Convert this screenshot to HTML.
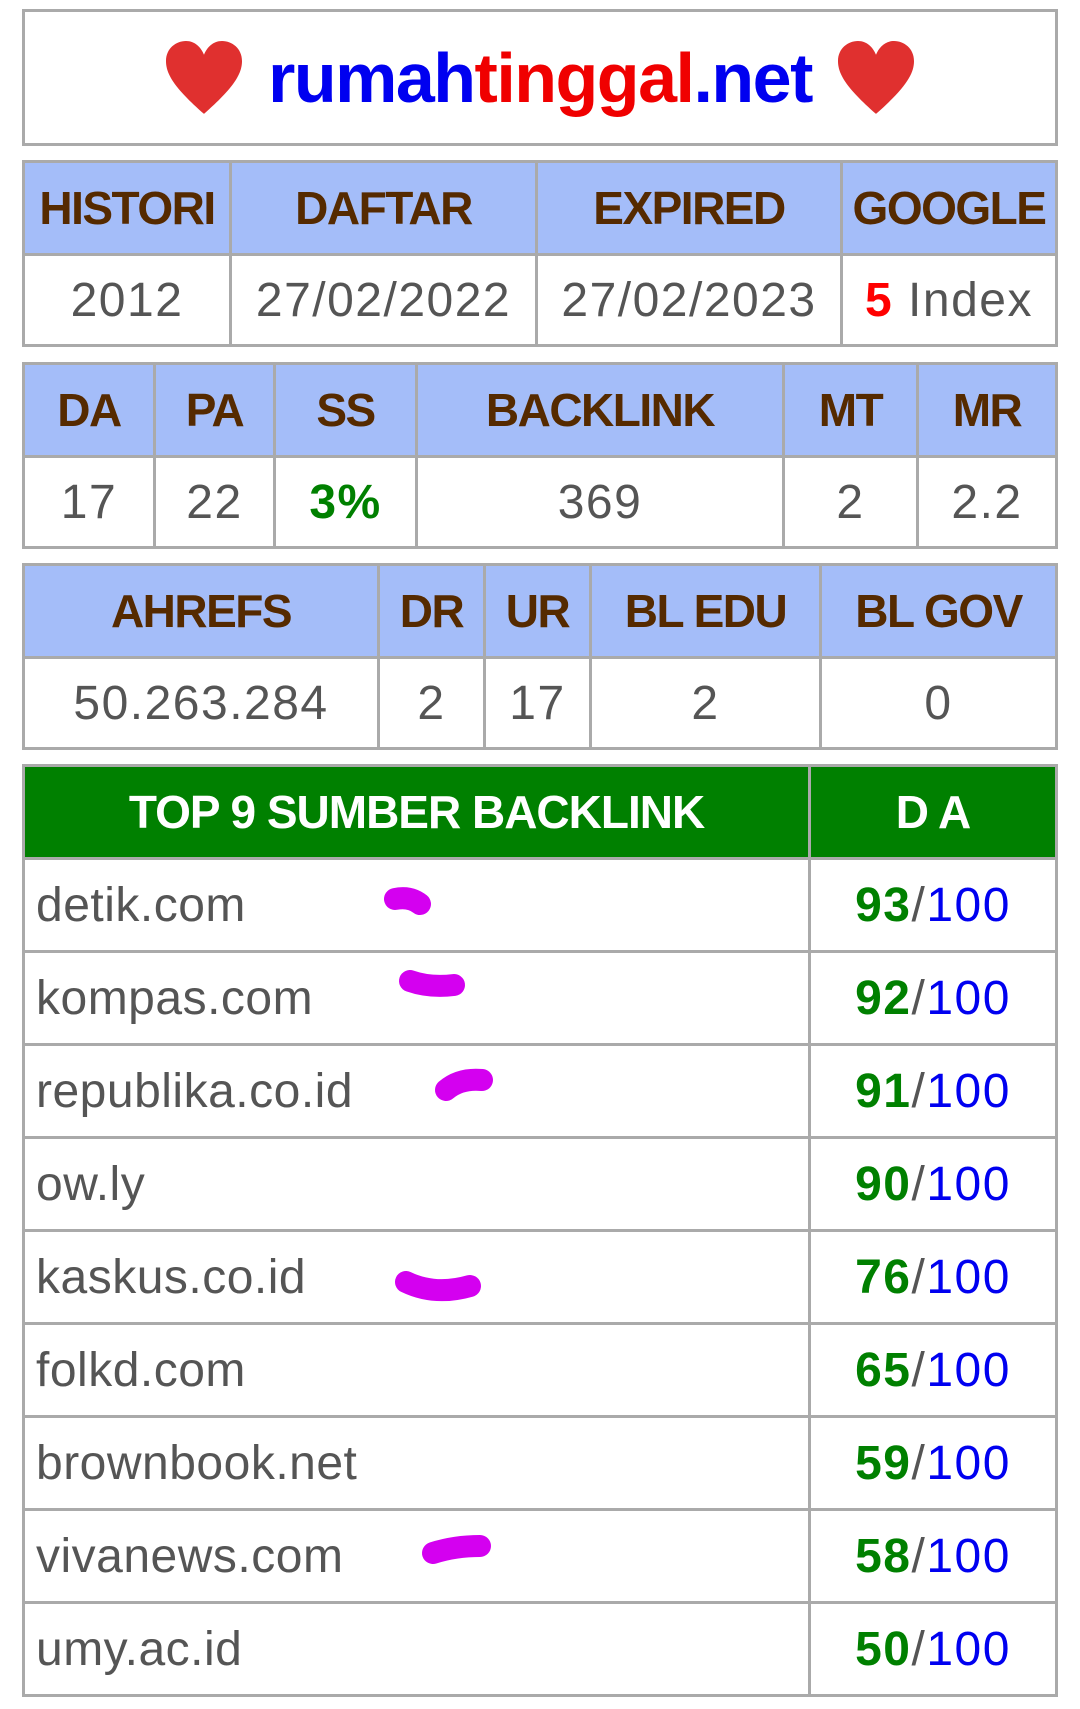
<!DOCTYPE html>
<html><head><meta charset="utf-8">
<style>
body{margin:0;width:1080px;height:1709px;background:#fff;position:relative;overflow:hidden;font-family:"Liberation Sans",sans-serif;}
.c{position:absolute;box-sizing:border-box;border:3px solid #aaa;display:flex;align-items:center;justify-content:center;white-space:nowrap;}
.h{background:#a4bdf9;color:#552a00;font-weight:bold;font-size:46px;letter-spacing:-1.5px;}
.d{background:#fff;color:#555;font-size:48px;letter-spacing:1.5px;}
.g{background:#008000;color:#fff;font-weight:bold;font-size:46px;letter-spacing:-1px;}
.l{justify-content:flex-start;padding-left:11px;letter-spacing:0.5px;}
</style></head>
<body>
<div class="c" style="left:22px;top:9px;width:1036px;height:137px;">
  <svg width="80" height="76" viewBox="0 0 80 72" preserveAspectRatio="none" style="margin-right:24px"><path d="M40 70 C10 45 2 32 2 20 C2 8 12 1 22 1 C31 1 37 7 40 14 C43 7 49 1 58 1 C68 1 78 8 78 20 C78 32 70 45 40 70Z" fill="#e0302f"/></svg>
  <span style="font-size:70px;font-weight:bold;letter-spacing:-1.5px;"><span style="color:#0000f0">rumah</span><span style="color:#f00000">tinggal</span><span style="color:#0000f0">.net</span></span>
  <svg width="80" height="76" viewBox="0 0 80 72" preserveAspectRatio="none" style="margin-left:24px"><path d="M40 70 C10 45 2 32 2 20 C2 8 12 1 22 1 C31 1 37 7 40 14 C43 7 49 1 58 1 C68 1 78 8 78 20 C78 32 70 45 40 70Z" fill="#e0302f"/></svg>
</div>
<div id="root"></div>
<svg width="1080" height="1709" style="position:absolute;left:0;top:0;pointer-events:none">
<g stroke="#d400f0" stroke-width="22" stroke-linecap="round" fill="none">
<path d="M395 899 Q410 896 420 904"/>
<path d="M410 981 Q430 988 454 985"/>
<path d="M446 1090 Q460 1078 482 1080"/>
<path d="M406 1282 Q435 1296 470 1286"/>
<path d="M433 1553 Q455 1546 480 1546"/>
</g></svg>
<script>
const root=document.getElementById('root');
function cell(cls,x0,x1,y0,y1,html,name){
  const e=document.createElement('div');
  e.className='c '+cls;
  e.style.left=x0+'px';e.style.top=y0+'px';
  e.style.width=(x1-x0+3)+'px';e.style.height=(y1-y0+3)+'px';
  e.innerHTML=html;
  
  
  root.appendChild(e);
}
function table(cols,y,heads,vals,prefix){
  for(let i=0;i<heads.length;i++){
    cell('h',cols[i],cols[i+1],y[0],y[1],heads[i],prefix+'-header-'+i);
    cell('d',cols[i],cols[i+1],y[1],y[2],vals[i],prefix+'-value-'+i);
  }
}
table([22,229,535,840,1055],[160,253,344],['HISTORI','DAFTAR','EXPIRED','GOOGLE'],
 ['2012','27/02/2022','27/02/2023','<b style="color:#f00">5</b>&nbsp;Index'],'domain-info');
table([22,153,273,415,782,916,1055],[362,455,546],['DA','PA','SS','BACKLINK','MT','MR'],
 ['17','22','<b style="color:#008000">3%</b>','369','2','2.2'],'metrics');
table([22,377,483,589,819,1055],[563,656,747],['AHREFS','DR','UR','BL EDU','BL GOV'],
 ['50.263.284','2','17','2','0'],'ahrefs');
const sites=['detik.com','kompas.com','republika.co.id','ow.ly','kaskus.co.id','folkd.com','brownbook.net','vivanews.com','umy.ac.id'];
const das=[93,92,91,90,76,65,59,58,50];
cell('g',22,808,764,857,'TOP 9 SUMBER BACKLINK','backlink-header');
cell('g',808,1055,764,857,'D A','da-header');
for(let i=0;i<sites.length;i++){
  const y0=857+i*93, y1=y0+93;
  cell('d l',22,808,y0,y1,sites[i],'backlink-site');
  cell('d',808,1055,y0,y1,'<b style="color:#008000">'+das[i]+'</b><span style="color:#555">/</span><span style="color:#0000f0">100</span>','backlink-da');
}
</script>
</body></html>
